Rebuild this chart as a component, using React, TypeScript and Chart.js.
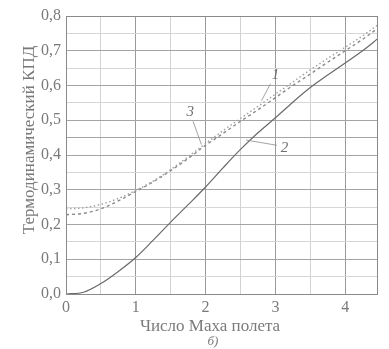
import React, { useEffect, useRef } from "react";
import { Chart, registerables } from "chart.js";

Chart.register(...registerables);

const machNumbers = [0, 0.25, 0.5, 0.75, 1, 1.25, 1.5, 1.75, 2, 2.25, 2.5, 2.75, 3, 3.25, 3.5, 3.75, 4, 4.25, 4.47];
const curve1 = [0.245, 0.248, 0.258, 0.275, 0.298, 0.325, 0.358, 0.395, 0.433, 0.47, 0.505, 0.54, 0.575, 0.61, 0.645, 0.678, 0.71, 0.743, 0.775];
const curve2 = [0, 0.005, 0.03, 0.065, 0.105, 0.155, 0.207, 0.257, 0.308, 0.363, 0.416, 0.464, 0.507, 0.552, 0.594, 0.63, 0.665, 0.7, 0.735];
const curve3 = [0.228, 0.232, 0.245, 0.268, 0.295, 0.323, 0.355, 0.39, 0.428, 0.462, 0.497, 0.53, 0.565, 0.6, 0.633, 0.667, 0.7, 0.733, 0.765];

const curveLabels = ["1", "2", "3"];
// label text anchor [M, value], leader start [M, value], leader end [M, value]
const labelText = [[3.0, 0.63], [3.13, 0.42], [1.78, 0.525]];
const leaderStart = [[2.93, 0.605], [3.02, 0.428], [1.82, 0.497]];
const leaderEnd = [[2.8, 0.556], [2.58, 0.443], [1.94, 0.43]];

const yTickLabels = ["0,0", "0,1", "0,2", "0,3", "0,4", "0,5", "0,6", "0,7", "0,8"];
const xTickLabels = ["0", "1", "2", "3", "4"];
const xTitle = "Число Маха полета";
const yTitle = "Термодинамический КПД";
const subCaption = "б)";

const FONT = "'Liberation Serif', 'DejaVu Serif', serif";
const TEXT = "#7a7a7a";

export default function App() {
  const ref = useRef<HTMLCanvasElement | null>(null);
  useEffect(() => {
    const canvas = ref.current;
    if (!canvas) return;
    const mk = (ys: number[]) => machNumbers.map((m, i) => ({ x: m, y: ys[i] }));
    const overlay = {
      id: "overlay",
      afterDraw(chart: any) {
        const { ctx, chartArea, scales } = chart;
        const xs = scales.x, ys = scales.y;
        ctx.save();
        ctx.strokeStyle = "#8a8a8a";
        ctx.lineWidth = 1;
        ctx.strokeRect(chartArea.left + 0.5, chartArea.top + 0.5, chartArea.right - chartArea.left - 1, chartArea.bottom - chartArea.top);
        ctx.strokeStyle = "#8c8c8c";
        ctx.lineWidth = 0.8;
        ctx.fillStyle = "#6f6f6f";
        ctx.font = `italic 15px ${FONT}`;
        ctx.textAlign = "center";
        ctx.textBaseline = "middle";
        for (let i = 0; i < curveLabels.length; i++) {
          ctx.beginPath();
          ctx.moveTo(xs.getPixelForValue(leaderStart[i][0]), ys.getPixelForValue(leaderStart[i][1]));
          ctx.lineTo(xs.getPixelForValue(leaderEnd[i][0]), ys.getPixelForValue(leaderEnd[i][1]));
          ctx.stroke();
          ctx.fillText(curveLabels[i], xs.getPixelForValue(labelText[i][0]), ys.getPixelForValue(labelText[i][1]));
        }
        ctx.fillStyle = TEXT;
        ctx.font = `17px ${FONT}`;
        ctx.fillText(xTitle, 210, 327);
        ctx.font = `italic 13px ${FONT}`;
        ctx.fillText(subCaption, 213, 342);
        ctx.translate(30, 140);
        ctx.rotate(-Math.PI / 2);
        ctx.font = `17px ${FONT}`;
        ctx.fillText(yTitle, 0, 0);
        ctx.restore();
      },
    };
    const chart = new Chart(canvas, {
      type: "line",
      data: {
        datasets: [
          { label: "1", data: mk(curve1), borderColor: "#a0a0a0", borderWidth: 1.4, borderDash: [1.5, 2.5], pointRadius: 0, cubicInterpolationMode: "monotone", fill: false },
          { label: "3", data: mk(curve3), borderColor: "#8a8a8a", borderWidth: 1.4, borderDash: [3, 3], pointRadius: 0, cubicInterpolationMode: "monotone", fill: false },
          { label: "2", data: mk(curve2), borderColor: "#6a6a6a", borderWidth: 1.2, pointRadius: 0, cubicInterpolationMode: "monotone", fill: false },
        ],
      },
      options: {
        animation: false,
        responsive: false,
        maintainAspectRatio: false,
        layout: { padding: { top: 16, right: 11, left: 0, bottom: 0 } },
        plugins: { legend: { display: false }, tooltip: { enabled: false } },
        scales: {
          x: {
            type: "linear",
            min: 0,
            max: 4.47,
            afterBuildTicks: (s: any) => {
              const t = [];
              for (let v = 0; v <= 4.47 + 1e-9; v += 0.5) t.push({ value: v });
              s.ticks = t;
            },
            afterFit: (s: any) => { s.height = 55; },
            grid: {
              color: (c: any) => (Math.abs(c.tick.value - Math.round(c.tick.value)) < 1e-6 ? "#9a9a9a" : "#d2d2d2"),
              lineWidth: 1,
              drawTicks: false,
            },
            border: { display: false },
            ticks: {
              autoSkip: false,
              maxRotation: 0,
              padding: 4,
              color: TEXT,
              font: { family: FONT, size: 16 },
              callback: (v: any) => {
                const n = Number(v);
                return Math.abs(n - Math.round(n)) < 1e-6 ? xTickLabels[Math.round(n)] : "";
              },
            },
          },
          y: {
            type: "linear",
            min: 0,
            max: 0.8,
            afterBuildTicks: (s: any) => {
              const t = [];
              for (let i = 0; i <= 16; i++) t.push({ value: i * 0.05 });
              s.ticks = t;
            },
            afterFit: (s: any) => { s.width = 66; },
            grid: {
              color: (c: any) => {
                const k = Math.round(c.tick.value * 20);
                return k % 2 === 0 || k === 9 ? "#a4a4a4" : "#d6d6d6";
              },
              lineWidth: 1,
              drawTicks: false,
            },
            border: { display: false },
            ticks: {
              autoSkip: false,
              padding: 5,
              color: TEXT,
              font: { family: FONT, size: 16 },
              callback: (v: any) => {
                const k = Math.round(Number(v) * 20);
                return k % 2 === 0 ? yTickLabels[k / 2] : "";
              },
            },
          },
        },
      },
      plugins: [overlay],
    });
    return () => chart.destroy();
  }, []);
  return (
    <div style={{ position: "fixed", left: 0, top: 0, width: 389, height: 349, background: "#fff" }}>
      <canvas ref={ref} width={389} height={349} style={{ display: "block" }} />
    </div>
  );
}
